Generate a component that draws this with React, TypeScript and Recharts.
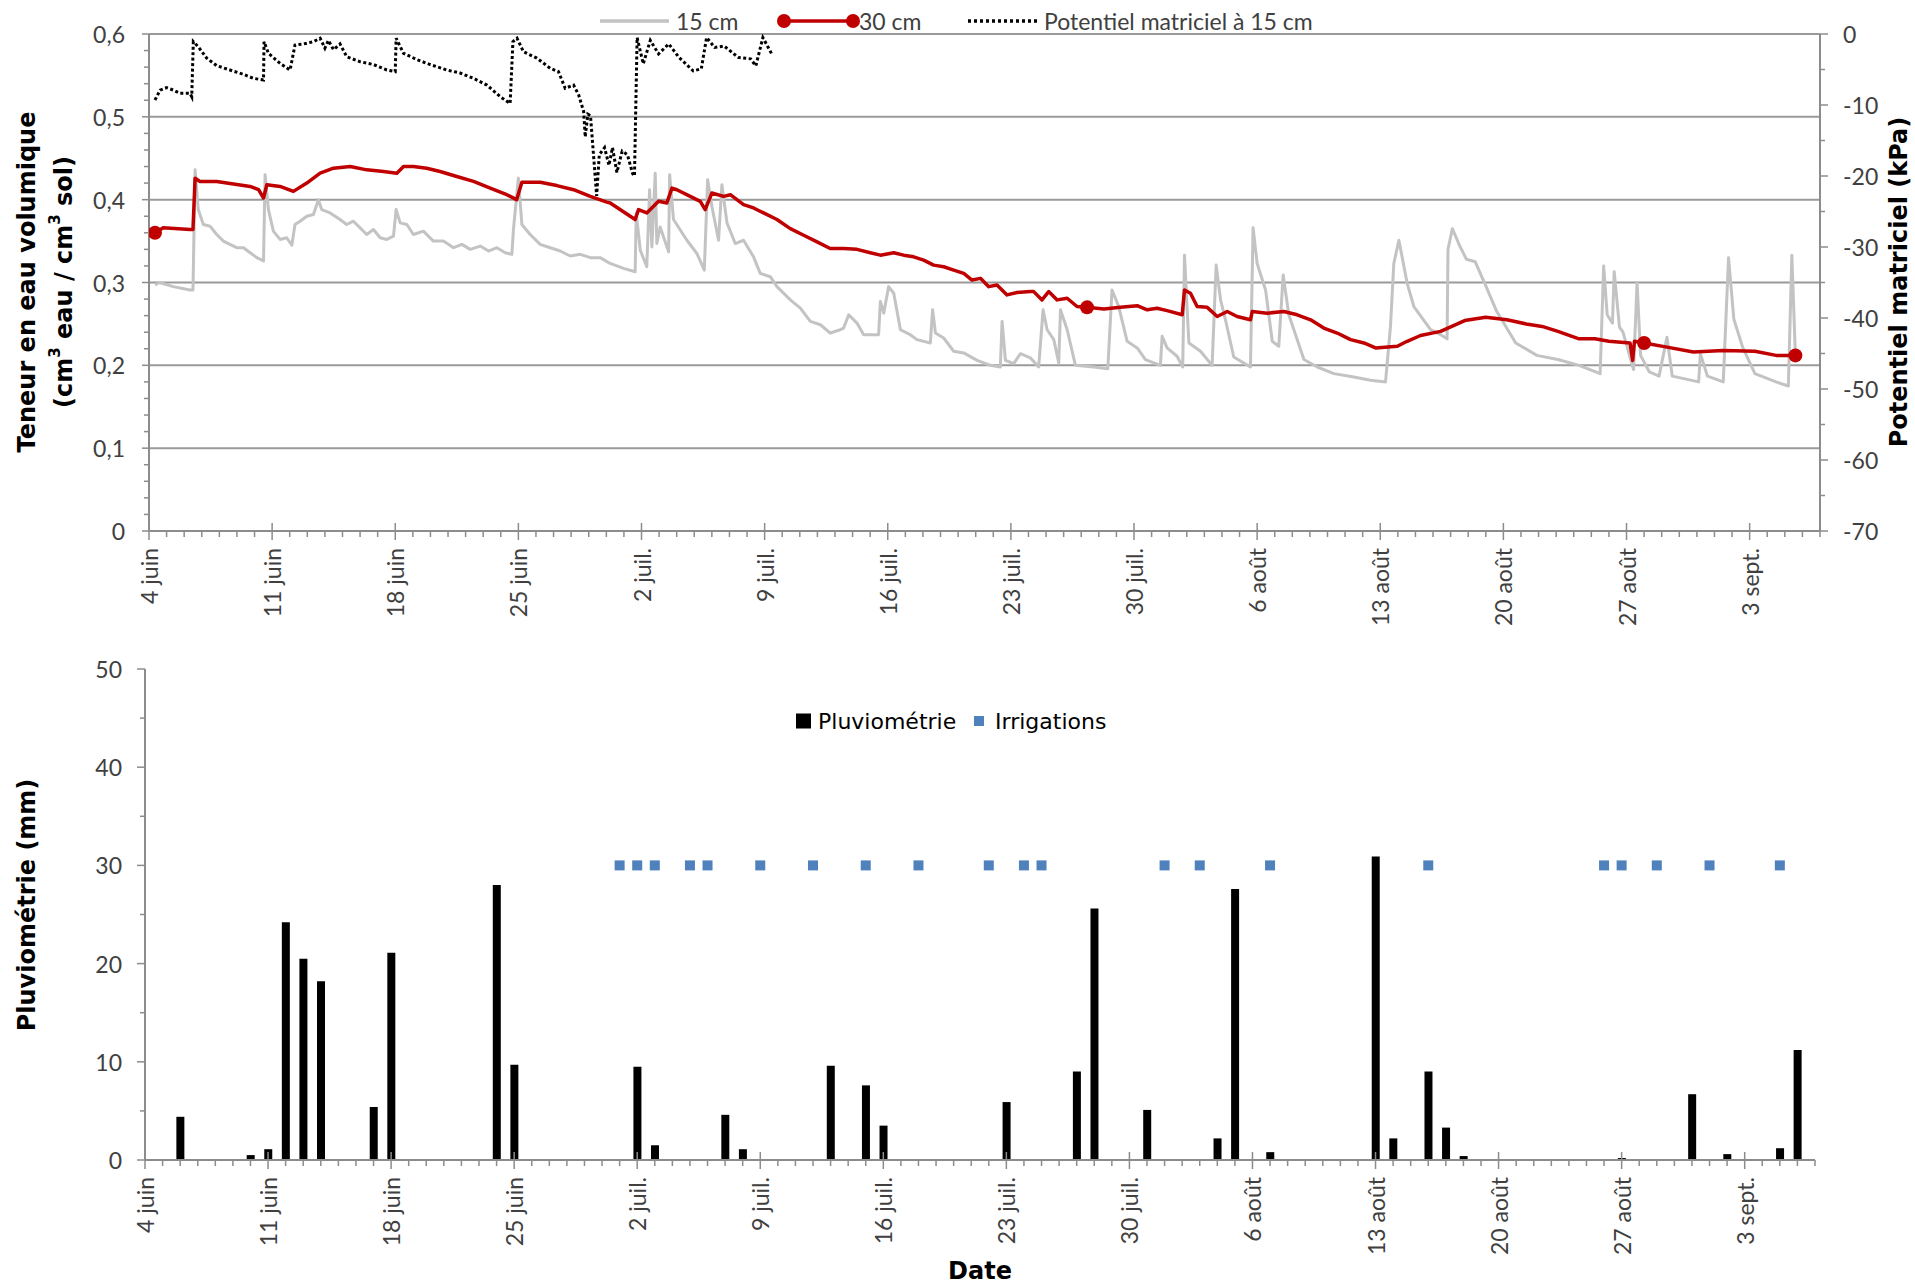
import React from 'react';
import { ComposedChart, Line, XAxis, YAxis, ReferenceLine, Bar, Scatter } from 'recharts';

// ---------- Data ----------
// day index: 0 = 4 juin ... 95 = 7 sept.
const weekDays = [0, 7, 14, 21, 28, 35, 42, 49, 56, 63, 70, 77, 84, 91];
const weekLabels = ['4 juin', '11 juin', '18 juin', '25 juin', '2 juil.', '9 juil.', '16 juil.', '23 juil.', '30 juil.', '6 août', '13 août', '20 août', '27 août', '3 sept.'];

// Teneur en eau volumique à 15 cm [day, cm3/cm3]
const theta15: [number, number][] = [
  [0.34, 0.297], [0.6, 0.3], [1.38, 0.295], [2.33, 0.291], [2.5, 0.291], [2.62, 0.436], [2.8, 0.388], [3.09, 0.37],
  [3.47, 0.368], [3.85, 0.358], [4.23, 0.35], [4.6, 0.346], [4.99, 0.342], [5.37, 0.342], [5.75, 0.336], [6.13, 0.33],
  [6.51, 0.326], [6.6, 0.43], [6.79, 0.388], [7.07, 0.362], [7.45, 0.352], [7.83, 0.354], [8.12, 0.345], [8.3, 0.37],
  [8.59, 0.374], [8.97, 0.38], [9.35, 0.382], [9.63, 0.4], [9.82, 0.388], [10.3, 0.384], [10.86, 0.376], [11.24, 0.37],
  [11.62, 0.374], [12.0, 0.366], [12.38, 0.358], [12.76, 0.364], [13.14, 0.354], [13.52, 0.352], [13.9, 0.356], [14.05, 0.388],
  [14.28, 0.372], [14.66, 0.37], [15.03, 0.358], [15.6, 0.362], [16.17, 0.35], [16.74, 0.35], [17.31, 0.342], [17.79, 0.346],
  [18.26, 0.34], [18.83, 0.344], [19.3, 0.338], [19.78, 0.342], [20.25, 0.336], [20.63, 0.334], [20.72, 0.364], [21.0, 0.426],
  [21.2, 0.37], [21.67, 0.358], [22.24, 0.346], [22.81, 0.342], [23.38, 0.338], [23.95, 0.332], [24.52, 0.334], [25.09, 0.33],
  [25.65, 0.33], [26.22, 0.323], [26.98, 0.317], [27.64, 0.313], [27.7, 0.384], [27.93, 0.339], [28.3, 0.319], [28.46, 0.412],
  [28.59, 0.343], [28.78, 0.432], [28.87, 0.347], [29.06, 0.367], [29.54, 0.337], [29.6, 0.43], [29.82, 0.376], [30.58, 0.351],
  [31.15, 0.335], [31.57, 0.315], [31.76, 0.424], [32.0, 0.392], [32.38, 0.351], [32.57, 0.418], [32.86, 0.372], [33.33, 0.347],
  [33.8, 0.351], [34.37, 0.331], [34.75, 0.311], [35.32, 0.307], [35.7, 0.295], [36.46, 0.279], [37.03, 0.269], [37.6, 0.253],
  [38.17, 0.249], [38.73, 0.239], [39.3, 0.243], [39.49, 0.245], [39.78, 0.261], [40.25, 0.251], [40.63, 0.237], [41.48, 0.237],
  [41.58, 0.277], [41.77, 0.263], [42.05, 0.295], [42.34, 0.287], [42.72, 0.243], [43.28, 0.237], [43.66, 0.231], [44.42, 0.227],
  [44.55, 0.267], [44.71, 0.239], [45.18, 0.233], [45.75, 0.217], [46.32, 0.215], [47.08, 0.206], [47.84, 0.2], [48.4, 0.198],
  [48.5, 0.253], [48.69, 0.206], [49.16, 0.202], [49.54, 0.214], [50.11, 0.209], [50.58, 0.198], [50.83, 0.267], [51.06, 0.243],
  [51.44, 0.231], [51.72, 0.203], [51.82, 0.267], [52.2, 0.243], [52.67, 0.2], [53.71, 0.198], [54.51, 0.196], [54.75, 0.291],
  [55.13, 0.271], [55.61, 0.229], [56.18, 0.221], [56.65, 0.207], [57.5, 0.2], [57.6, 0.235], [57.88, 0.221], [58.45, 0.211],
  [58.77, 0.198], [58.87, 0.333], [59.12, 0.227], [59.78, 0.217], [60.44, 0.2], [60.67, 0.321], [60.92, 0.279], [61.2, 0.255],
  [61.67, 0.21], [62.62, 0.198], [62.77, 0.366], [63.0, 0.323], [63.48, 0.291], [63.86, 0.229], [64.23, 0.223], [64.48, 0.309],
  [64.8, 0.261], [65.66, 0.207], [66.42, 0.198], [67.36, 0.19], [68.5, 0.186], [69.45, 0.182], [70.3, 0.18], [70.58, 0.247],
  [70.77, 0.323], [71.06, 0.351], [71.53, 0.299], [71.91, 0.271], [72.86, 0.243], [73.43, 0.237], [73.8, 0.232], [73.85, 0.34],
  [74.1, 0.365], [74.5, 0.345], [74.9, 0.328], [75.4, 0.325], [76.0, 0.296], [76.6, 0.266], [77.7, 0.227], [78.9, 0.212],
  [80.1, 0.207], [81.3, 0.2], [82.5, 0.19], [82.7, 0.32], [82.9, 0.261], [83.2, 0.251], [83.3, 0.313], [83.6, 0.246],
  [83.8, 0.24], [84.4, 0.195], [84.6, 0.3], [84.8, 0.212], [85.3, 0.192], [85.85, 0.187], [86.3, 0.234], [86.6, 0.187],
  [88.1, 0.18], [88.2, 0.214], [88.6, 0.187], [89.5, 0.18], [89.8, 0.33], [90.1, 0.256], [90.6, 0.222], [91.3, 0.19],
  [92.5, 0.18], [93.2, 0.175], [93.4, 0.333], [93.6, 0.212],
];

// Teneur en eau volumique à 30 cm [day, cm3/cm3]
const theta30: [number, number][] = [
  [0.34, 0.36], [0.81, 0.366], [2.33, 0.364], [2.5, 0.364], [2.62, 0.426], [2.9, 0.422], [3.85, 0.422], [4.8, 0.419],
  [5.75, 0.416], [6.23, 0.412], [6.51, 0.402], [6.7, 0.418], [7.45, 0.416], [8.21, 0.41], [8.97, 0.42], [9.73, 0.432],
  [10.49, 0.438], [11.44, 0.44], [12.38, 0.436], [13.33, 0.434], [14.09, 0.432], [14.47, 0.44], [15.03, 0.44], [15.79, 0.438],
  [16.55, 0.434], [17.5, 0.428], [18.45, 0.422], [19.4, 0.414], [20.34, 0.406], [20.9, 0.4], [21.2, 0.421], [22.24, 0.421],
  [23.19, 0.417], [24.14, 0.412], [25.09, 0.404], [26.03, 0.397], [26.22, 0.396], [27.64, 0.376], [27.83, 0.388], [28.3, 0.384],
  [28.97, 0.398], [29.44, 0.396], [29.73, 0.414], [30.01, 0.412], [30.77, 0.404], [31.34, 0.398], [31.62, 0.388], [32.0, 0.408],
  [32.67, 0.404], [33.05, 0.406], [33.8, 0.394], [34.37, 0.39], [34.94, 0.384], [35.7, 0.376], [36.46, 0.365], [37.22, 0.357],
  [37.98, 0.349], [38.73, 0.341], [39.49, 0.341], [40.25, 0.34], [41.01, 0.336], [41.58, 0.333], [42.34, 0.336], [42.9, 0.333],
  [43.47, 0.331], [44.04, 0.327], [44.61, 0.321], [45.18, 0.319], [45.75, 0.315], [46.32, 0.311], [46.79, 0.303], [47.27, 0.305],
  [47.74, 0.295], [48.21, 0.297], [48.78, 0.285], [49.35, 0.288], [50.11, 0.289], [50.3, 0.289], [50.77, 0.279], [51.15, 0.289],
  [51.63, 0.279], [52.2, 0.281], [52.76, 0.271], [53.33, 0.27], [54.28, 0.268], [55.23, 0.27], [56.18, 0.272], [56.75, 0.267],
  [57.31, 0.269], [57.88, 0.266], [58.74, 0.261], [58.87, 0.291], [59.21, 0.287], [59.59, 0.271], [60.16, 0.27], [60.73, 0.259],
  [61.3, 0.265], [61.86, 0.259], [62.62, 0.255], [62.72, 0.265], [63.57, 0.263], [64.52, 0.265], [65.28, 0.261], [66.04, 0.255],
  [66.79, 0.245], [67.55, 0.239], [68.31, 0.231], [69.07, 0.227], [69.73, 0.221], [70.97, 0.223], [71.53, 0.229], [72.29, 0.236],
  [73.43, 0.241], [74.8, 0.254], [76.0, 0.258], [77.2, 0.255], [78.3, 0.25], [79.2, 0.247], [80.1, 0.241], [81.3, 0.232],
  [82.2, 0.232], [83.0, 0.229], [84.2, 0.227], [84.35, 0.206], [84.45, 0.229], [85.0, 0.227], [86.3, 0.222], [87.8, 0.216],
  [89.5, 0.218], [91.3, 0.217], [92.5, 0.212], [93.6, 0.212],
];

// Points marqués de la série 30 cm
const theta30Markers: [number, number][] = [[0.34, 0.36], [53.33, 0.27], [85.0, 0.227], [93.6, 0.212]];

// Potentiel matriciel à 15 cm [day, kPa]
const potential15: [number, number][] = [
  [0.34, -9.3], [0.63, -7.9], [1.0, -7.56], [1.38, -7.9], [1.76, -8.36], [2.33, -8.36], [2.43, -8.83], [2.52, -1.08],
  [2.8, -1.8], [3.28, -3.4], [3.85, -4.46], [4.6, -5.07], [5.37, -5.68], [5.93, -6.24], [6.51, -6.48], [6.54, -1.08],
  [6.79, -2.72], [7.45, -4.13], [8.02, -5.07], [8.3, -1.55], [8.78, -1.41], [9.35, -1.08], [9.73, -0.6], [10.0, -2.0],
  [10.2, -0.9], [10.49, -2.2], [10.86, -1.4], [11.24, -3.2], [12.0, -3.9], [12.76, -4.3], [13.52, -5.07], [14.0, -5.3],
  [14.05, -0.6], [14.47, -2.72], [15.23, -3.6], [15.98, -4.3], [16.93, -5.07], [17.69, -5.5], [18.45, -6.24], [19.21, -7.2],
  [19.97, -8.83], [20.53, -9.8], [20.69, -1.08], [20.92, -0.6], [21.29, -2.5], [22.05, -3.4], [22.81, -4.83], [23.28, -5.3],
  [23.66, -7.65], [24.14, -7.2], [24.43, -8.6], [24.71, -10.9], [24.8, -14.5], [24.95, -11.3], [25.1, -11.5], [25.45, -22.8],
  [25.6, -17.0], [25.9, -16.0], [26.15, -18.5], [26.35, -16.0], [26.6, -19.5], [26.9, -16.5], [27.2, -17.0], [27.5, -19.7],
  [27.6, -20.0], [27.75, -0.5], [28.1, -4.2], [28.5, -0.9], [28.97, -2.8], [29.55, -1.4], [30.13, -3.3], [30.94, -5.2],
  [31.4, -4.9], [31.7, -0.5], [32.16, -1.9], [32.7, -1.7], [33.5, -3.3], [34.2, -3.5], [34.5, -4.5], [34.9, -0.5],
  [35.4, -2.8],
];

// Pluviométrie (mm)
const rainDays = [2, 6, 7, 8, 9, 10, 13, 14, 20, 21, 28, 29, 33, 34, 39, 41, 42, 49, 53, 54, 57, 61, 62, 64, 70, 71, 73, 74, 75, 84, 88, 90, 93, 94];
const rainValues = [4.4, 0.5, 1.1, 24.2, 20.5, 18.2, 5.4, 21.1, 28.0, 9.7, 9.5, 1.5, 4.6, 1.1, 9.6, 7.6, 3.5, 5.9, 9.0, 25.6, 5.1, 2.2, 27.6, 0.8, 30.9, 2.2, 9.0, 3.3, 0.4, 0.2, 6.7, 0.6, 1.2, 11.2];

// Irrigations (jours), tracées à 30 mm
const irrigationDays = [27, 28, 29, 31, 32, 35, 38, 41, 44, 48, 50, 51, 58, 60, 64, 73, 83, 84, 86, 89, 93];
const irrigationLevel = 30;

// ---------- Derived tables ----------
const toPts = (arr: [number, number][]) => arr.map(([day, v]) => ({ day, v }));
const data15 = toPts(theta15);
const data30 = toPts(theta30);
const dataMarkers = toPts(theta30Markers);
const dataPot = toPts(potential15);
const rainData = rainDays.map((day, i) => ({ day, rain: rainValues[i] }));
const irrData = irrigationDays.map((day) => ({ day, irr: irrigationLevel }));

const dayTicks = Array.from({ length: 96 }, (_, i) => i);
const leftTicks = Array.from({ length: 31 }, (_, i) => i / 50);
const rightTicks = Array.from({ length: 15 }, (_, i) => -70 + 5 * i);
const rainTicks = Array.from({ length: 11 }, (_, i) => i * 5);
const gridValues = [0.1, 0.2, 0.3, 0.4, 0.5, 0.6];

// ---------- Styles ----------
const AXIS = '#8c8c8c';
const GRID = '#9a9a9a';
const GRAY15 = '#c3c3c3';
const RED = '#c00000';
const BLUE = '#4f81bd';
const TICKFONT = 'Lato, "Open Sans", sans-serif';
const TICKCOLOR = '#404040';
const TITLEFONT = '"DejaVu Sans", Verdana, sans-serif';

function XTick(props: any) {
  const { x, y, payload } = props;
  const i = weekDays.indexOf(payload.value);
  if (i < 0) {
    return <line x1={x} x2={x} y1={y} y2={y + 6} stroke={AXIS} strokeWidth={1.5} />;
  }
  const ty = y + 17;
  return (
    <g>
      <line x1={x} x2={x} y1={y - 8} y2={y + 9} stroke={AXIS} strokeWidth={1.5} />
      <text x={x} y={ty} transform={`rotate(-90 ${x} ${ty})`} textAnchor="end" dominantBaseline="central"
        fontFamily={TICKFONT} fontSize={23} fill={TICKCOLOR}>{weekLabels[i]}</text>
    </g>
  );
}

function LeftTick(props: any) {
  const { x, y, payload } = props;
  const i = Math.round(payload.value * 50);
  const major = i % 5 === 0;
  return (
    <g>
      <line x1={x - (major ? 7 : 5)} x2={x} y1={y} y2={y} stroke={AXIS} strokeWidth={1.5} />
      {major && (
        <text x={x - 24} y={y} textAnchor="end" dominantBaseline="central" fontFamily={TICKFONT} fontSize={23} fill={TICKCOLOR}>
          {i === 0 ? '0' : '0,' + i / 5}
        </text>
      )}
    </g>
  );
}

function RightTick(props: any) {
  const { x, y, payload } = props;
  const v = Math.round(payload.value);
  const major = v % 10 === 0;
  return (
    <g>
      <line x1={x} x2={x + (major ? 8 : 5)} y1={y} y2={y} stroke={AXIS} strokeWidth={1.5} />
      {major && (
        <text x={x + 23} y={y} textAnchor="start" dominantBaseline="central" fontFamily={TICKFONT} fontSize={23} fill={TICKCOLOR}>
          {String(v)}
        </text>
      )}
    </g>
  );
}

function RainTick(props: any) {
  const { x, y, payload } = props;
  const v = Math.round(payload.value);
  const major = v % 10 === 0;
  return (
    <g>
      <line x1={x - (major ? 8 : 5)} x2={x} y1={y} y2={y} stroke={AXIS} strokeWidth={1.5} />
      {major && (
        <text x={x - 23} y={y} textAnchor="end" dominantBaseline="central" fontFamily={TICKFONT} fontSize={23} fill={TICKCOLOR}>
          {String(v)}
        </text>
      )}
    </g>
  );
}

const titleProps = { fontFamily: TITLEFONT, fontWeight: 'bold' as const, fontSize: 24, fill: '#000', textAnchor: 'middle' as const, dominantBaseline: 'central' as const };

function TopAnnotations() {
  return (
    <g>
      <text transform="translate(27,282) rotate(-90)" {...titleProps}>Teneur en eau volumique</text>
      <text transform="translate(64,282) rotate(-90)" {...titleProps}>
        (cm<tspan dy={-9} fontSize={15}>3</tspan><tspan dy={9}> eau / cm</tspan><tspan dy={-9} fontSize={15}>3</tspan><tspan dy={9}> sol)</tspan>
      </text>
      <text transform="translate(1899,282) rotate(-90)" {...titleProps}>Potentiel matriciel (kPa)</text>
      {/* legend */}
      <line x1={600} x2={669} y1={21} y2={21} stroke={GRAY15} strokeWidth={3.5} />
      <text x={676} y={21} dominantBaseline="central" fontFamily={TICKFONT} fontSize={23} fill={TICKCOLOR}>15 cm</text>
      <line x1={784} x2={853} y1={21} y2={21} stroke={RED} strokeWidth={3.5} />
      <circle cx={784} cy={21} r={7} fill={RED} />
      <circle cx={853} cy={21} r={7} fill={RED} />
      <text x={859} y={21} dominantBaseline="central" fontFamily={TICKFONT} fontSize={23} fill={TICKCOLOR}>30 cm</text>
      <line x1={968} x2={1039} y1={21} y2={21} stroke="#000" strokeWidth={3.5} strokeDasharray="3 3" />
      <text x={1044} y={21} dominantBaseline="central" fontFamily={TICKFONT} fontSize={23} fill={TICKCOLOR}>Potentiel matriciel à 15 cm</text>
    </g>
  );
}

function BottomAnnotations() {
  return (
    <g>
      <text transform="translate(27,265) rotate(-90)" {...titleProps}>Pluviométrie (mm)</text>
      <text x={980} y={631} {...titleProps}>Date</text>
      <rect x={796} y={73.5} width={15} height={15} fill="#000" />
      <text x={818} y={81} dominantBaseline="central" fontFamily={TITLEFONT} fontSize={22} fill="#000">Pluviométrie</text>
      <rect x={974} y={76} width={10} height={10} fill={BLUE} />
      <text x={995} y={81} dominantBaseline="central" fontFamily={TITLEFONT} fontSize={22} fill="#000">Irrigations</text>
    </g>
  );
}

export default function App() {
  return (
    <div style={{ position: 'absolute', left: 0, top: 0, width: 1915, height: 1288, background: '#fff' }}>
      <div style={{ position: 'absolute', left: 0, top: 0 }}>
        <ComposedChart width={1915} height={640} margin={{ top: 34, right: 0, bottom: 0, left: 0 }}>
          <XAxis xAxisId="x" type="number" dataKey="day" domain={[0, 95]} ticks={dayTicks} interval={0}
            allowDataOverflow tick={<XTick />} tickLine={false} tickSize={0} tickMargin={0} height={109}
            axisLine={{ stroke: AXIS, strokeWidth: 2 }} label={{ content: () => <TopAnnotations /> }} />
          <YAxis yAxisId="left" type="number" domain={[0, 0.6]} ticks={leftTicks} interval={0} allowDataOverflow
            tick={<LeftTick />} tickLine={false} tickSize={0} tickMargin={0} width={149}
            axisLine={{ stroke: AXIS, strokeWidth: 2 }} />
          <YAxis yAxisId="right" orientation="right" type="number" domain={[-70, 0]} ticks={rightTicks} interval={0}
            allowDataOverflow tick={<RightTick />} tickLine={false} tickSize={0} tickMargin={0} width={95}
            axisLine={{ stroke: AXIS, strokeWidth: 2 }} />
          {gridValues.map((g) => (
            <ReferenceLine key={g} xAxisId="x" yAxisId="left" y={g} stroke={GRID} strokeWidth={2} />
          ))}
          <Line xAxisId="x" yAxisId="left" data={data15} dataKey="v" type="linear" stroke={GRAY15} strokeWidth={3}
            dot={false} activeDot={false} isAnimationActive={false} strokeLinejoin="round" />
          <Line xAxisId="x" yAxisId="left" data={data30} dataKey="v" type="linear" stroke={RED} strokeWidth={3.5}
            dot={false} activeDot={false} isAnimationActive={false} strokeLinejoin="round" />
          <Line xAxisId="x" yAxisId="right" data={dataPot} dataKey="v" type="linear" stroke="#000" strokeWidth={3}
            strokeDasharray="3 2.5" dot={false} activeDot={false} isAnimationActive={false} />
          <Scatter xAxisId="x" yAxisId="left" data={dataMarkers} dataKey="v" isAnimationActive={false}
            shape={(p: any) => <circle cx={p.cx} cy={p.cy} r={7} fill={RED} />} />
        </ComposedChart>
      </div>
      <div style={{ position: 'absolute', left: 0, top: 640 }}>
        <ComposedChart width={1915} height={648} data={rainData} margin={{ top: 29, right: 100, bottom: 0, left: 0 }}>
          <XAxis xAxisId="x" type="number" dataKey="day" domain={[0, 95]} ticks={dayTicks} interval={0}
            allowDataOverflow tick={<XTick />} tickLine={false} tickSize={0} tickMargin={0} height={128}
            axisLine={{ stroke: AXIS, strokeWidth: 2 }} label={{ content: () => <BottomAnnotations /> }} />
          <YAxis yAxisId="y" type="number" domain={[0, 50]} ticks={rainTicks} interval={0} allowDataOverflow
            tick={<RainTick />} tickLine={false} tickSize={0} tickMargin={0} width={145}
            axisLine={{ stroke: AXIS, strokeWidth: 2 }} />
          <Bar xAxisId="x" yAxisId="y" dataKey="rain" fill="#000" barSize={8} isAnimationActive={false} />
          <Scatter xAxisId="x" yAxisId="y" data={irrData} dataKey="irr" isAnimationActive={false}
            shape={(p: any) => <rect x={p.cx - 5} y={p.cy - 5} width={10} height={10} fill={BLUE} />} />
        </ComposedChart>
      </div>
    </div>
  );
}
